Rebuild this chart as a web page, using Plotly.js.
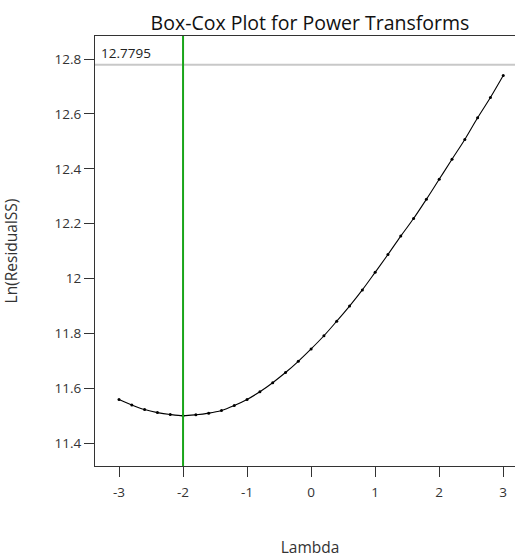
<!DOCTYPE html>
<html>
<head>
<meta charset="utf-8">
<script src="https://cdn.plot.ly/plotly-3.0.1.min.js"></script>
<style>
html,body{margin:0;padding:0;overflow:hidden;background:#fff;}
#chart{width:525px;height:558px;}
</style>
</head>
<body>
<div id="chart"></div>
<script>
const lambdas = [-3.0,-2.8,-2.6,-2.4,-2.2,-2.0,-1.8,-1.6,-1.4,-1.2,-1.0,-0.8,-0.6,-0.4,-0.2,0,0.2,0.4,0.6,0.8,1.0,1.2,1.4,1.6,1.8,2.0,2.2,2.4,2.6,2.8,3.0];
const lnResidualSS = [11.560,11.540,11.523,11.512,11.505,11.501,11.504,11.510,11.520,11.538,11.560,11.588,11.621,11.658,11.699,11.744,11.792,11.845,11.900,11.959,12.023,12.088,12.155,12.219,12.289,12.362,12.435,12.507,12.586,12.660,12.740];
const bestLambda = -2;
const ciLevel = 12.7795;
const ciLabel = "12.7795";

const font = "'Open Sans', 'Noto Sans', sans-serif";

const traces = [
  {x: lambdas, y: lnResidualSS, type: 'scatter', mode: 'lines',
   line: {color: '#000', width: 1.1, shape: 'spline'}, hoverinfo: 'skip'},
  {x: lambdas, y: lnResidualSS, type: 'scatter', mode: 'markers',
   marker: {color: '#000', size: 3}}
];

const layout = {
  width: 525, height: 558,
  margin: {l: 95, r: 0, t: 36, b: 92},
  paper_bgcolor: '#fff', plot_bgcolor: '#fff',
  showlegend: false,
  font: {family: font, color: '#333', size: 14},
  title: {text: 'Box-Cox Plot for Power Transforms', font: {family: font, size: 19.5, color: '#111'},
          x: 0.5, xanchor: 'center', xref: 'paper', y: 1, yref: 'paper', yanchor: 'bottom', pad: {b: 6}},
  xaxis: {
    range: [-3.375, 3.34], showgrid: false, zeroline: false,
    showline: true, linecolor: '#333', linewidth: 1, mirror: true,
    ticks: 'outside', ticklen: 10, tickcolor: '#333', tickwidth: 1,
    ticklabelstandoff: 4,
    tickvals: [-3,-2,-1,0,1,2,3], ticktext: ['-3','-2','-1','0','1','2','3'],
    tickfont: {size: 13.5, color: '#333'},
    title: {text: 'Lambda', font: {size: 15.5, color: '#333'}, standoff: 47}
  },
  yaxis: {
    range: [11.3175, 12.884], showgrid: false, zeroline: false,
    showline: true, linecolor: '#333', linewidth: 1, mirror: true,
    ticks: 'outside', ticklen: 10, tickcolor: '#333', tickwidth: 1,
    tickvals: [11.4,11.6,11.8,12,12.2,12.4,12.6,12.8],
    tickfont: {size: 13.5, color: '#333'},
    title: {text: 'Ln(ResidualSS)', font: {size: 15.5, color: '#333'}, standoff: 33}
  },
  shapes: [
    {type: 'line', xref: 'paper', x0: 0, x1: 1, yref: 'y', y0: ciLevel, y1: ciLevel,
     line: {color: '#c8c8c8', width: 2}},
    {type: 'line', xref: 'x', x0: bestLambda, x1: bestLambda, yref: 'paper', y0: 0, y1: 1,
     line: {color: '#1aa51a', width: 2}}
  ],
  annotations: [
    {text: ciLabel, xref: 'paper', x: 0, xanchor: 'left', xshift: 4, yref: 'y', y: ciLevel,
     yanchor: 'bottom', yshift: 1, showarrow: false, font: {size: 13.5, color: '#222'}}
  ]
};

Plotly.newPlot('chart', traces, layout, {displayModeBar: false, staticPlot: true});
</script>
</body>
</html>
